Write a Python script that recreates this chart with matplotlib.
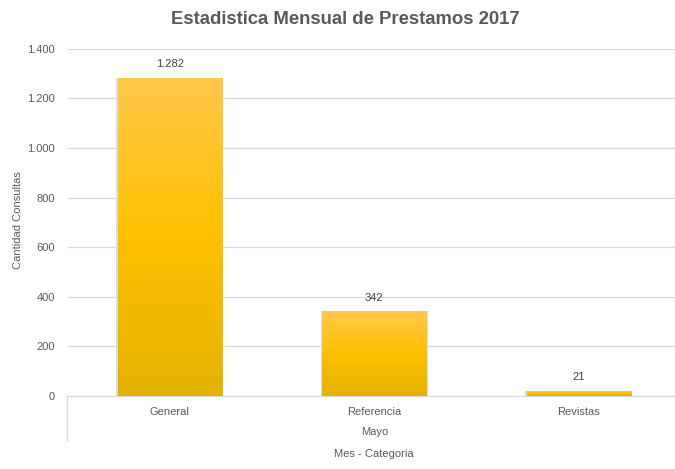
import matplotlib
matplotlib.use("Agg")
import matplotlib.pyplot as plt
import numpy as np
from matplotlib.colors import LinearSegmentedColormap

categories = ['General', 'Referencia', 'Revistas']
values = [1282, 342, 21]
group_label = 'Mayo'
yticks = [0, 200, 400, 600, 800, 1000, 1200, 1400]


def fmt(v):
    return f'{v:,}'.replace(',', '.')


plt.rcParams['font.family'] = ['Liberation Sans', 'DejaVu Sans']
text_color = '#595959'

fig = plt.figure(figsize=(6.75, 4.69), dpi=100)
ax = fig.add_axes([0.1, 0.1557, 0.909, 0.74])

gold = LinearSegmentedColormap.from_list(
    'gold', ['#E3B200', '#FFC000', '#FFC94A'])
grad = np.linspace(0, 1, 256).reshape(-1, 1)

width = 0.51
x = np.arange(len(categories))
bars = ax.bar(x, values, width=width, color='none', zorder=3)
for b, v in zip(bars, values):
    x0 = b.get_x()
    # soft shadow like excel
    ax.bar(x0 + width / 2, v, width=width + 0.014, color='#dcdcdc',
           zorder=2, linewidth=0)
    im = ax.imshow(grad, extent=[x0, x0 + width, 0, v], origin='lower',
                   cmap=gold, aspect='auto', zorder=3)
    im.set_clip_path(b)
    ax.text(x0 + width / 2, v + 35, fmt(v), ha='center', va='bottom',
            fontsize=8, color='#404040')

ax.set_xlim(-0.5, len(categories) - 0.5)
ax.set_ylim(0, 1400)
ax.set_yticks(yticks)
ax.set_yticklabels([fmt(t) for t in yticks], fontsize=8, color=text_color)
ax.set_xticks(x)
ax.set_xticklabels(categories, fontsize=8, color=text_color)
ax.tick_params(axis='both', length=0, pad=9)
ax.tick_params(axis='x', pad=8)
ax.grid(axis='y', color='#d9d9d9', linewidth=0.9, zorder=0)
ax.set_axisbelow(True)
for s in ['top', 'right', 'left']:
    ax.spines[s].set_visible(False)
ax.spines['bottom'].set_color('#d9d9d9')

# group separator and labels
ax.plot([-0.5, -0.5], [0, -0.13], transform=ax.get_xaxis_transform(),
        color='#d9d9d9', linewidth=0.9, clip_on=False)
ax.text(1, -0.103, group_label, transform=ax.get_xaxis_transform(),
        ha='center', va='center', fontsize=8, color=text_color)
ax.text(1, -0.166, 'Mes - Categoria', transform=ax.get_xaxis_transform(),
        ha='center', va='center', fontsize=8, color=text_color)

fig.text(0.027, 0.53, 'Cantidad Consultas', rotation=90, ha='center',
         va='center', fontsize=8, color=text_color)
fig.text(0.512, 0.958, 'Estadistica Mensual de Prestamos 2017', ha='center',
         va='center', fontsize=13.3, fontweight='bold', color=text_color)

fig.savefig('out.png', dpi=100)
